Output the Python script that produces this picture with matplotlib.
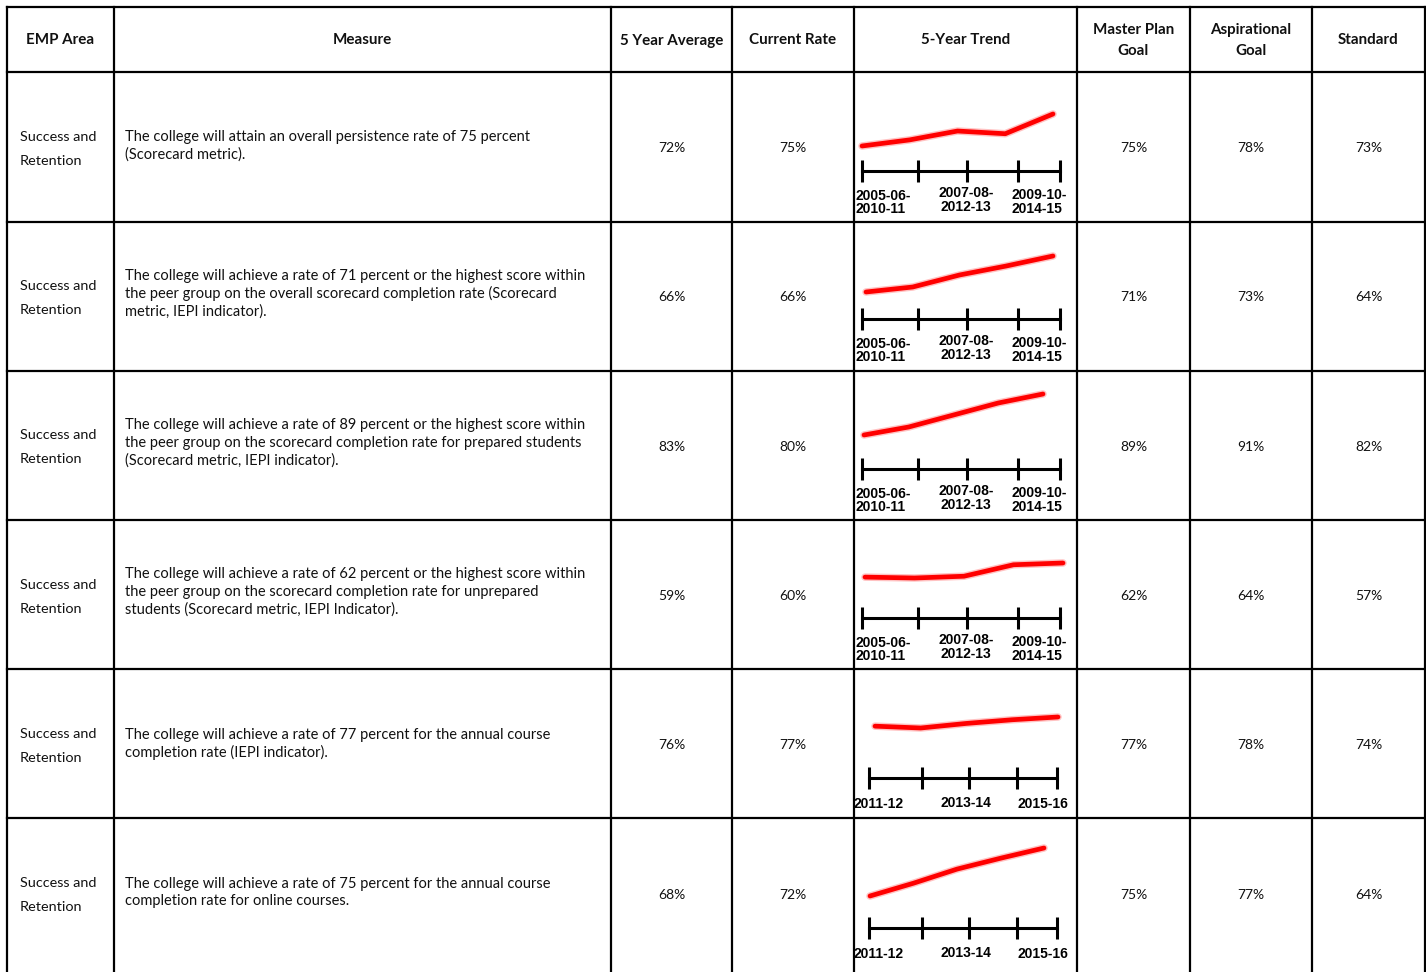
import matplotlib
matplotlib.use("Agg")
import matplotlib.pyplot as plt

# ---------------- data ----------------
headers = [["EMP Area"], ["Measure"], ["5 Year Average"], ["Current Rate"], ["5-Year Trend"],
           ["Master Plan", "Goal"], ["Aspirational", "Goal"], ["Standard"]]
emp_area = [["Success and", "Retention"]] * 6
measures = [
    ["The college will attain an overall persistence rate of 75 percent",
     "(Scorecard metric)."],
    ["The college will achieve a rate of 71 percent or the highest score within",
     "the peer group on the overall scorecard completion rate (Scorecard",
     "metric, IEPI indicator)."],
    ["The college will achieve a rate of 89 percent or the highest score within",
     "the peer group on the scorecard completion rate for prepared students",
     "(Scorecard metric, IEPI indicator)."],
    ["The college will achieve a rate of 62 percent or the highest score within",
     "the peer group on the scorecard completion rate for unprepared",
     "students (Scorecard metric, IEPI Indicator)."],
    ["The college will achieve a rate of 77 percent for the annual course",
     "completion rate (IEPI indicator)."],
    ["The college will achieve a rate of 75 percent for the annual course",
     "completion rate for online courses."],
]
five_year_avg = [72, 66, 83, 59, 76, 68]
current_rate = [75, 66, 80, 60, 77, 72]
master_plan_goal = [75, 71, 89, 62, 77, 75]
aspirational_goal = [78, 73, 91, 64, 78, 77]
standard = [73, 64, 82, 57, 74, 64]

# 5-year trend values (estimated, percent)
trend_1 = [70.3, 71.2, 72.5, 72.1, 75.0]
trend_2 = [64.5, 65.0, 66.2, 67.1, 68.1]
trend_3 = [80.0, 81.6, 84.0, 86.4, 88.2]
trend_4 = [58.0, 57.9, 58.1, 59.4, 59.6]
trend_5 = [75.6, 75.4, 75.9, 76.3, 76.6]
trend_6 = [64.0, 66.0, 68.2, 69.9, 71.5]
trends = [trend_1, trend_2, trend_3, trend_4, trend_5, trend_6]

cohort_labels = ["2005-06-\n2010-11", "2007-08-\n2012-13", "2009-10-\n2014-15"]
year_labels = ["2011-12", "2013-14", "2015-16"]

# ---------------- layout (pixels) ----------------
W, H = 1426, 972
col_x = [7, 114, 611, 732, 854, 1077, 1190, 1312, 1425]
row_y = [7, 72, 222, 371, 520, 669, 818]
row_h = 149.3

BODY = ["Lato", "DejaVu Sans"]
SPARK = ["Liberation Sans", "DejaVu Sans"]
TXT = "#111111"

fig = plt.figure(figsize=(W / 100, H / 100), dpi=100)
fig.patch.set_facecolor("white")
ax = fig.add_axes([0, 0, 1, 1])
ax.set_xlim(0, W)
ax.set_ylim(H, 0)
ax.axis("off")


def rect(x0, x1, ytop, ybot):
    return [x0 / W, 1 - ybot / H, (x1 - x0) / W, (ybot - ytop) / H]


# grid
for x in col_x:
    ax.plot([x, x], [row_y[0], H + 20], color="black", lw=1.6, solid_capstyle="projecting", clip_on=False)
for y in row_y:
    ax.plot([col_x[0], col_x[-1]], [y, y], color="black", lw=1.6, solid_capstyle="projecting")

# header
hc = (row_y[0] + row_y[1]) / 2
for i, h in enumerate(headers):
    cx = (col_x[i] + col_x[i + 1]) / 2
    n = len(h)
    for j, ln in enumerate(h):
        ax.text(cx, hc + 1 + (j - (n - 1) / 2) * 21, ln, ha="center", va="center",
                fontsize=10.9, fontweight="bold", family=BODY, color=TXT)

value_cols = [(2, five_year_avg), (3, current_rate), (5, master_plan_goal),
              (6, aspirational_goal), (7, standard)]

for r in range(6):
    top = row_y[1] + r * row_h
    cy = top + row_h / 2
    # EMP area
    e1, e2 = emp_area[r]
    ax.text(20, cy - 10, e1, ha="left", va="center", fontsize=10.4, family=BODY, color=TXT)
    ax.text(20, cy + 14, e2, ha="left", va="center", fontsize=10.4, family=BODY, color=TXT)
    # measure
    lines = measures[r]
    n = len(lines)
    off = -0.5 - (n - 2) * 2.0
    for i, ln in enumerate(lines):
        ax.text(125, cy + off + (i - (n - 1) / 2) * 17.6, ln, ha="left", va="center",
                fontsize=10.5, family=BODY, color=TXT)
    # values
    for c, arr in value_cols:
        cx = (col_x[c] + col_x[c + 1]) / 2
        ax.text(cx, cy + 1.5, f"{arr[r]}%", ha="center", va="center", fontsize=10,
                family=BODY, color=TXT)

# sparklines: (x_start, x_end, y_px of max, y_px of min)
line_boxes = [(862, 1053, 114, 146), (866, 1053, 256, 292), (864, 1043, 394, 435),
              (865, 1063, 563, 578), (875, 1058, 717, 728), (870, 1044, 848, 896)]
axis_y = [171, 319, 469, 618, 778, 928]
tick_frac = [0, 0.283, 0.53, 0.788, 1.0]

for r in range(6):
    x0, x1, yt, yb = line_boxes[r]
    vals = trends[r]
    sa = fig.add_axes(rect(x0, x1, yt, yb))
    sa.axis("off")
    sa.set_xlim(0, len(vals) - 1)
    sa.set_ylim(min(vals), max(vals))
    xs = list(range(len(vals)))
    sa.plot(xs, vals, color="#ff5050", lw=5.4, alpha=0.35, clip_on=False, solid_capstyle="round")
    sa.plot(xs, vals, color="#ff0000", lw=3.4, clip_on=False, solid_capstyle="round",
            solid_joinstyle="round")

    ay = axis_y[r]
    if r < 4:
        ax0, ax1 = 862, 1060
    else:
        ax0, ax1 = 869, 1057
    ra = fig.add_axes(rect(ax0, ax1, ay - 11, ay + 11))
    ra.axis("off")
    ra.set_xlim(0, 1)
    ra.set_ylim(-1, 1)
    ra.plot([0, 1], [0, 0], color="black", lw=2.2, clip_on=False)
    ra.vlines(tick_frac, -1, 1, color="black", lw=2.2, clip_on=False)

    if r < 4:
        labs = cohort_labels
        ax.text(855, ay + 31.5, labs[0], ha="left", va="center", fontsize=10,
                fontweight="bold", family=SPARK, color="black", linespacing=0.95)
        ax.text(966, ay + 29, labs[1], ha="center", va="center", fontsize=10,
                fontweight="bold", family=SPARK, color="black", linespacing=0.95)
        ax.text(1012, ay + 31, labs[2], ha="left", va="center", fontsize=10,
                fontweight="bold", family=SPARK, color="black", linespacing=0.95)
    else:
        labs = year_labels
        ax.text(854, ay + 26, labs[0], ha="left", va="center", fontsize=10,
                fontweight="bold", family=SPARK, color="black")
        ax.text(966, ay + 25, labs[1], ha="center", va="center", fontsize=10,
                fontweight="bold", family=SPARK, color="black")
        ax.text(1018, ay + 26, labs[2], ha="left", va="center", fontsize=10,
                fontweight="bold", family=SPARK, color="black")

fig.savefig("out.png", dpi=100, facecolor="white")
